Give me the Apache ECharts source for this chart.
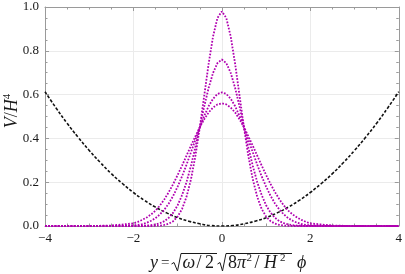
<!DOCTYPE html>
<html><head><meta charset="utf-8">
<script src="https://cdn.jsdelivr.net/npm/echarts@6/dist/echarts.min.js"></script>
<style>html,body{margin:0;padding:0;background:#fff}#c{width:405px;height:274px}</style>
</head><body><div id="c"></div>
<script>
// ---- data ----
const xTicks = [-4, -2, 0, 2, 4];
const yTicks = [0.0, 0.2, 0.4, 0.6, 0.8, 1.0];

const xPot = [-4,-3.75,-3.5,-3.25,-3,-2.75,-2.5,-2.25,-2,-1.75,-1.5,-1.25,-1,-0.75,-0.5,-0.25,0,0.25,0.5,0.75,1,1.25,1.5,1.75,2,2.25,2.5,2.75,3,3.25,3.5,3.75,4];
const vPot = [0.613,0.539,0.469,0.405,0.345,0.290,0.239,0.194,0.153,0.117,0.086,0.060,0.038,0.022,0.010,0.002,0,0.002,0.010,0.022,0.038,0.060,0.086,0.117,0.153,0.194,0.239,0.290,0.345,0.405,0.469,0.539,0.613];

const xDist = [-4,-3.5,-3,-2.5,-2,-1.9,-1.8,-1.7,-1.6,-1.5,-1.4,-1.3,-1.2,-1.1,-1,-0.9,-0.8,-0.7,-0.6,-0.5,-0.4,-0.3,-0.2,-0.1,0,0.1,0.2,0.3,0.4,0.5,0.6,0.7,0.8,0.9,1,1.1,1.2,1.3,1.4,1.5,1.6,1.7,1.8,1.9,2,2.5,3,3.5,4];
const dist1 = [0,0,0,0, 0,0,0,0,0,0.001,0.002,0.005,0.011,0.022,0.043,0.078,0.133,0.212,0.318,0.449,0.594,0.740,0.865,0.950, 0.980, 0.950,0.865,0.740,0.594,0.449,0.318,0.212,0.133,0.078,0.043,0.022,0.011,0.005,0.002,0.001,0,0,0,0,0, 0,0,0,0];
const dist2 = [0,0,0,0, 0,0,0.001,0.002,0.004,0.007,0.013,0.022,0.038,0.061,0.095,0.141,0.200,0.274,0.359,0.451,0.545,0.630,0.699,0.744, 0.760, 0.744,0.699,0.630,0.545,0.451,0.359,0.274,0.200,0.141,0.095,0.061,0.038,0.022,0.013,0.007,0.004,0.002,0.001,0,0, 0,0,0,0];
const dist3 = [0,0,0,0.001, 0.003,0.005,0.009,0.015,0.024,0.036,0.053,0.075,0.103,0.138,0.180,0.227,0.280,0.336,0.393,0.450,0.502,0.547,0.581,0.603, 0.610, 0.603,0.581,0.547,0.502,0.450,0.393,0.336,0.280,0.227,0.180,0.138,0.103,0.075,0.053,0.036,0.024,0.015,0.009,0.005,0.003, 0.001,0,0,0];
const dist4 = [0,0,0,0.002, 0.012,0.019,0.028,0.039,0.053,0.070,0.094,0.122,0.155,0.192,0.233,0.276,0.321,0.366,0.409,0.451,0.487,0.518,0.541,0.555, 0.560, 0.555,0.541,0.518,0.487,0.451,0.409,0.366,0.321,0.276,0.233,0.192,0.155,0.122,0.094,0.070,0.053,0.039,0.028,0.019,0.012, 0.002,0,0,0];

// ---- chart ----
const SERIF = 'Liberation Serif';
const pair = (xs, ys) => xs.map((x, i) => [x, ys[i]]);
const MAG = '#b000b0';
const INK = '#1a1a1a';

const chart = echarts.init(document.getElementById('c'), null, {renderer: 'canvas'});

function axisCommon(showLabels, isX) {
  return {
    type: 'value',
    min: isX ? xTicks[0] : yTicks[0],
    max: isX ? xTicks[xTicks.length - 1] : yTicks[yTicks.length - 1],
    interval: isX ? 2 : 0.2,
    axisLine: {show: true, onZero: false, lineStyle: {color: '#9a9a9a', width: 1}},
    axisTick: {show: true, inside: true, length: 4, lineStyle: {color: '#9a9a9a'}},
    minorTick: {show: true, splitNumber: 4, length: 2.5, lineStyle: {color: '#9a9a9a'}},
    splitLine: {show: showLabels, lineStyle: {color: '#ebebeb', width: 1}},
    axisLabel: {
      show: showLabels,
      fontFamily: SERIF, fontSize: 13, color: INK, margin: 6,
      formatter: v => isX ? (v < 0 ? '\u2212' + Math.abs(v) : String(v)) : v.toFixed(1)
    }
  };
}

const distLine = {color: MAG, width: 1.8, type: [1.7, 1.5]};
const T = (x, y, text, font) => ({type: 'text', x: x, y: y,
  style: {text: text, font: font, fill: INK, verticalAlign: 'middle'}});

const option = {
  animation: false,
  grid: {left: 45, right: 5, top: 7, bottom: 48},
  xAxis: [
    Object.assign(axisCommon(true, true), {position: 'bottom'}),
    Object.assign(axisCommon(false, true), {position: 'top'})
  ],
  yAxis: [
    Object.assign(axisCommon(true, false), {position: 'left'}),
    Object.assign(axisCommon(false, false), {position: 'right'})
  ],
  series: [
    {type: 'line', data: pair(xPot, vPot), smooth: true, showSymbol: false,
     lineStyle: {color: '#111', width: 1.6, type: [3, 1.8]}},
    {type: 'line', data: pair(xDist, dist4), showSymbol: false, lineStyle: distLine},
    {type: 'line', data: pair(xDist, dist3), showSymbol: false, lineStyle: distLine},
    {type: 'line', data: pair(xDist, dist2), showSymbol: false, lineStyle: distLine},
    {type: 'line', data: pair(xDist, dist1), showSymbol: false, lineStyle: distLine}
  ],
  graphic: [
    // y-axis title
    {type: 'text', x: 12, y: 111, rotation: Math.PI / 2,
     style: {text: '{i|V}/{i|H}{s|4}', align: 'center', verticalAlign: 'middle',
       font: '18px ' + SERIF, fill: INK,
       rich: {i: {fontStyle: 'italic', fontFamily: SERIF, fontSize: 18},
              s: {fontFamily: SERIF, fontSize: 11, verticalAlign: 'top', padding: [0, 0, 9, 0]}}}},
    // x-axis title pieces
    T(150, 263, 'y', 'italic 18px ' + SERIF),
    T(161, 263, '=', '15px ' + SERIF),
    {type: 'polyline', shape: {points: [[171.5, 264], [174, 262.5], [177.5, 271], [181, 253.5], [217, 253.5]]},
     style: {stroke: INK, lineWidth: 1, fill: null}},
    T(182.5, 263, 'ω', 'italic 18px ' + SERIF),
    T(196.5, 263, '/', '18px ' + SERIF),
    T(205, 263, '2', '18px ' + SERIF),
    {type: 'polyline', shape: {points: [[217.5, 264], [220, 262.5], [222.5, 271], [226, 253.5], [292, 253.5]]},
     style: {stroke: INK, lineWidth: 1, fill: null}},
    T(228, 263, '8', '18px ' + SERIF),
    T(237, 263, 'π', 'italic 18px ' + SERIF),
    T(246.5, 258, '2', '11px ' + SERIF),
    T(254.5, 263, '/', '18px ' + SERIF),
    T(264, 263, 'H', 'italic 18px ' + SERIF),
    T(280, 258, '2', '11px ' + SERIF),
    T(297, 263, 'ϕ', 'italic 18px ' + SERIF)
  ]
};
chart.setOption(option);
</script>
</body></html>
